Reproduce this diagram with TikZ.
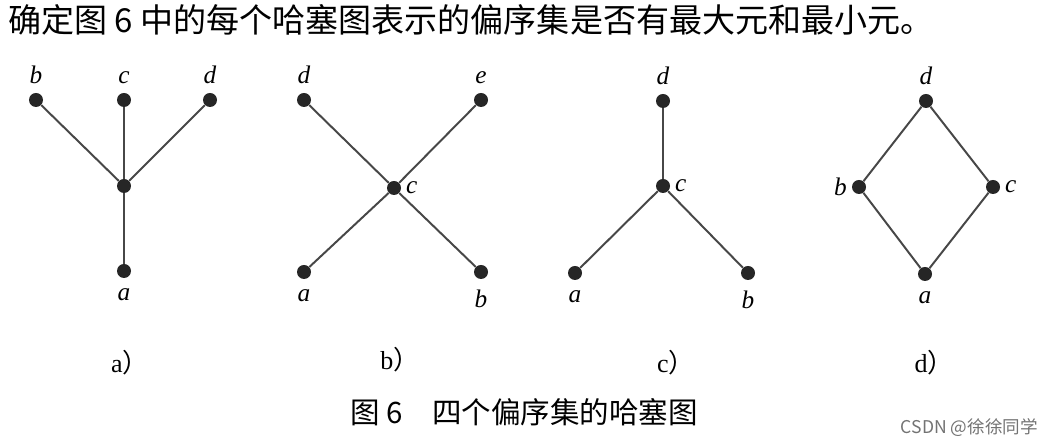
\documentclass[tikz,border=0pt]{standalone}
\usepackage{fontspec}
\setmainfont{Liberation Serif}
\newfontfamily\cjk{Noto Sans CJK SC}

\begin{document}
\begin{tikzpicture}[
	point/.style={shape=circle, fill=black!85, inner sep=0pt, minimum size=0.35cm},
	edge/.style={line width=1.4pt, black!72},
	lbl/.style={font=\fontsize{18}{18}\selectfont\itshape, inner sep=1pt, label distance=0.17cm},
	lblb/.style={lbl, label distance=0.22cm},
	lbls/.style={lbl, label distance=0.08cm},
	sub/.style={font=\fontsize{18.5}{18.5}\selectfont},
	]
	\useasboundingbox (0, 0) rectangle (26.375, 11.15);
	% Title:
	\node[anchor=west, inner sep=0pt, font=\cjk\fontsize{23.5}{23.5}\selectfont] (title) at (0.2, 10.65){确定图 6 中的每个哈塞图表示的偏序集是否有最大元和最小元。};
	% Diagram a):
	\node[point, label={[lbl]above:b}] (a-b) at (0.9, 8.65){};
	\node[point, label={[lbl]above:c}] (a-c) at (3.1, 8.65){};
	\node[point, label={[lbl]above:d}] (a-d) at (5.25, 8.65){};
	\node[point] (a-m) at (3.1, 6.5){};
	\node[point, label={[lblb]below:a}] (a-a) at (3.1, 4.375){};
	\draw[edge] (a-b) -- (a-m);
	\draw[edge] (a-c) -- (a-m);
	\draw[edge] (a-d) -- (a-m);
	\draw[edge] (a-m) -- (a-a);
	% Diagram b):
	\node[point, label={[lbl]above:d}] (b-d) at (7.6, 8.65){};
	\node[point, label={[lbl]above:e}] (b-e) at (12.025, 8.65){};
	\node[point, label={[lbls]right:c}] (b-c) at (9.85, 6.45){};
	\node[point, label={[lblb]below:a}] (b-a) at (7.6, 4.35){};
	\node[point, label={[lblb]below:b}] (b-b) at (12.025, 4.35){};
	\draw[edge] (b-d) -- (b-c);
	\draw[edge] (b-e) -- (b-c);
	\draw[edge] (b-c) -- (b-a);
	\draw[edge] (b-c) -- (b-b);
	% Diagram c):
	\node[point, label={[lbl]above:d}] (c-d) at (16.575, 8.625){};
	\node[point, label={[lbls]right:c}] (c-c) at (16.575, 6.5){};
	\node[point, label={[lblb]below:a}] (c-a) at (14.375, 4.325){};
	\node[point, label={[lblb]below:b}] (c-b) at (18.7, 4.325){};
	\draw[edge] (c-d) -- (c-c);
	\draw[edge] (c-c) -- (c-a);
	\draw[edge] (c-c) -- (c-b);
	% Diagram d):
	\node[point, label={[lbl]above:d}] (d-d) at (23.15, 8.625){};
	\node[point, label={[lbls]left:b}] (d-b) at (21.475, 6.475){};
	\node[point, label={[lbls]right:c}] (d-c) at (24.825, 6.475){};
	\node[point, label={[lblb]below:a}] (d-a) at (23.125, 4.3){};
	\draw[edge] (d-d) -- (d-b);
	\draw[edge] (d-d) -- (d-c);
	\draw[edge] (d-b) -- (d-a);
	\draw[edge] (d-c) -- (d-a);
	% Sub captions and caption:
	\node[sub] (sub-a) at (3.25, 2.075){a{\cjk ）}};
	\node[sub] (sub-b) at (10.0, 2.15){b{\cjk ）}};
	\node[sub] (sub-c) at (16.9, 2.075){c{\cjk ）}};
	\node[sub] (sub-d) at (23.35, 2.075){d{\cjk ）}};
	\node[font=\cjk\fontsize{21}{21}\selectfont] (caption) at (13.1, 0.85){图 6\quad 四个偏序集的哈塞图};
	\node[anchor=east, inner sep=0pt, text=black!55, font=\cjk\fontsize{12.5}{12.5}\selectfont] (mark) at (25.95, 0.45){CSDN @徐徐同学};
\end{tikzpicture}
\end{document}
